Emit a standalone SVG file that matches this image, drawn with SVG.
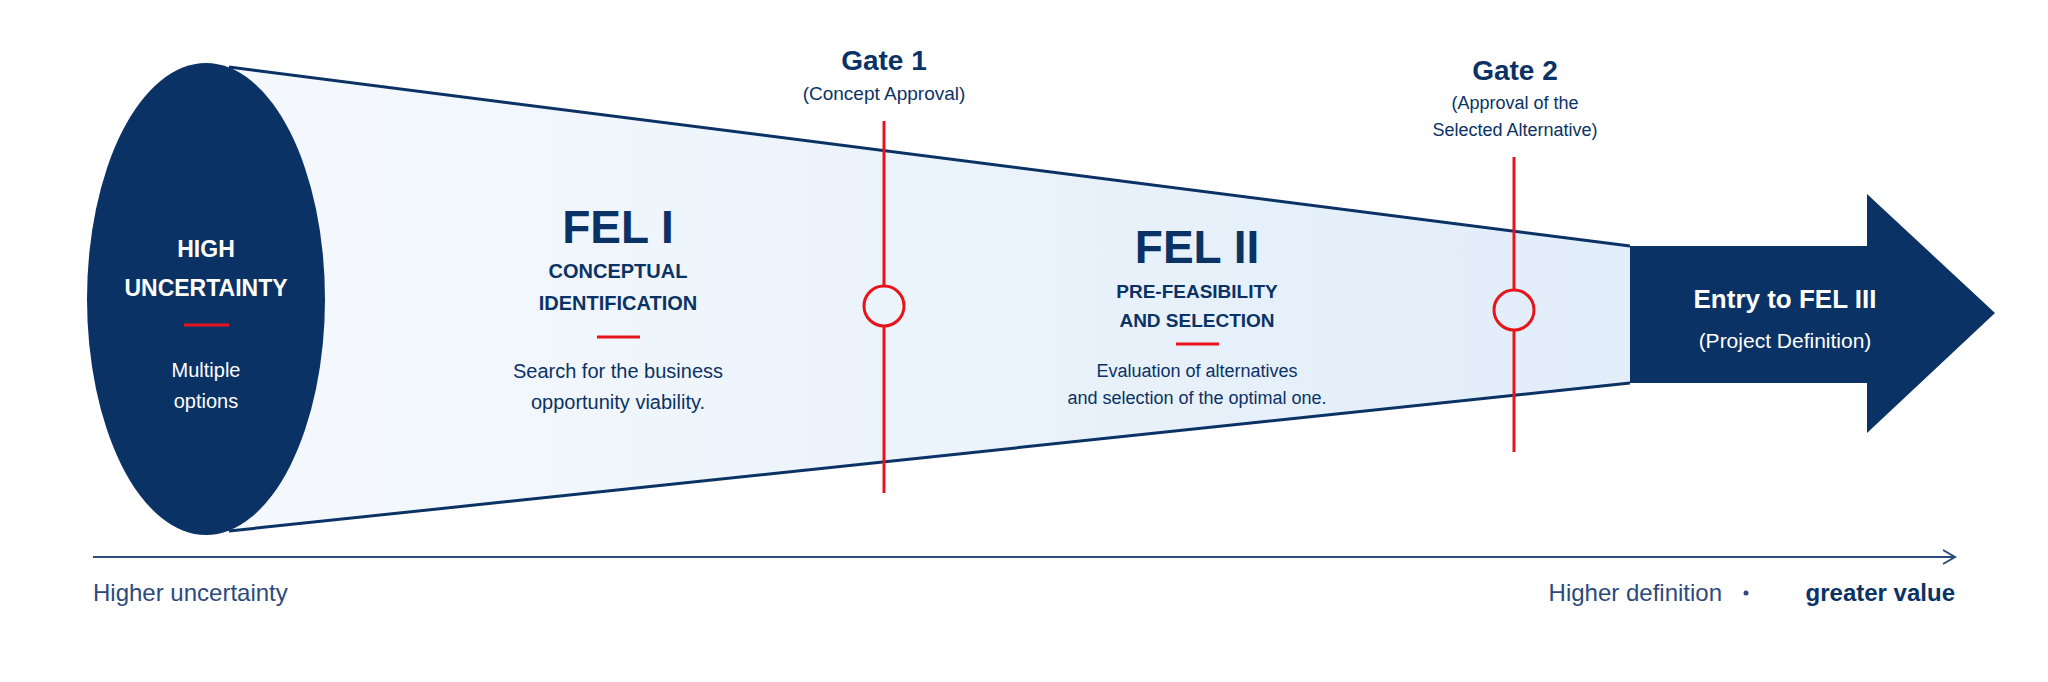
<svg xmlns="http://www.w3.org/2000/svg" width="2048" height="682" viewBox="0 0 2048 682">
<style>
text{font-family:"Liberation Sans",Arial,sans-serif;text-anchor:middle}
.navy{fill:#0b3265}.w{fill:#fff}.b{font-weight:bold}
.gate{stroke:#e8141c;stroke-width:3;fill:none}
.red{stroke:#e8141c;stroke-width:3}
</style>
<defs>
<linearGradient id="cone" x1="0" x2="1" y1="0" y2="0"><stop offset="0" stop-color="#f5f9fd"/><stop offset="1" stop-color="#e1edf9"/></linearGradient>
<marker id="ah" markerWidth="16" markerHeight="16" refX="14" refY="8" orient="auto" markerUnits="userSpaceOnUse"><path d="M2,1 L14,8 L2,15" fill="none" stroke="#2c4a7c" stroke-width="2"/></marker>
</defs>
<rect width="2048" height="682" fill="#fff"/>
<g id="cone-body">
<path d="M229,67 L1630,246 L1630,383 L229,531 Z" fill="url(#cone)"/>
<path d="M229,67 L1630,246 M229,531 L1630,383" stroke="#0b3265" stroke-width="3" fill="none"/>
</g>
<g id="start"><ellipse cx="206" cy="299" rx="119" ry="236" fill="#0b3265"/>
<text x="206" y="257" class="w b" font-size="23">HIGH</text>
<text x="206" y="296" class="w b" font-size="23">UNCERTAINTY</text>
<line x1="184" y1="325" x2="229" y2="325" class="red"/>
<text x="206" y="377" class="w" font-size="20">Multiple</text>
<text x="206" y="408" class="w" font-size="20">options</text></g>
<g id="fel1">
<text x="618" y="243" class="navy b" font-size="46">FEL I</text>
<text x="618" y="278" class="navy b" font-size="20">CONCEPTUAL</text>
<text x="618" y="310" class="navy b" font-size="20">IDENTIFICATION</text>
<line x1="597" y1="337" x2="640" y2="337" class="red"/>
<text x="618" y="378" class="navy" font-size="20">Search for the business</text>
<text x="618" y="409" class="navy" font-size="20">opportunity viability.</text></g>
<g id="fel2">
<text x="1197" y="263" class="navy b" font-size="46">FEL II</text>
<text x="1197" y="298" class="navy b" font-size="19">PRE-FEASIBILITY</text>
<text x="1197" y="327" class="navy b" font-size="19">AND SELECTION</text>
<line x1="1176" y1="344" x2="1219" y2="344" class="red"/>
<text x="1197" y="377" class="navy" font-size="18">Evaluation of alternatives</text>
<text x="1197" y="404" class="navy" font-size="18">and selection of the optimal one.</text></g>
<g id="entry">
<path d="M1630,246 L1867,246 L1867,194 L1995,313 L1867,433 L1867,383 L1630,383 Z" fill="#0b3265"/>
<text x="1785" y="308" class="w b" font-size="26">Entry to FEL III</text>
<text x="1785" y="348" class="w" font-size="21">(Project Definition)</text></g>
<g id="gate1">
<line x1="884" y1="121" x2="884" y2="286" class="red"/><line x1="884" y1="326" x2="884" y2="493" class="red"/>
<circle cx="884" cy="306" r="20" class="gate" fill="#fff"/>
<text x="884" y="70" class="navy b" font-size="28">Gate 1</text>
<text x="884" y="100" class="navy" font-size="19">(Concept Approval)</text></g>
<g id="gate2">
<line x1="1514" y1="157" x2="1514" y2="290" class="red"/><line x1="1514" y1="330" x2="1514" y2="452" class="red"/>
<circle cx="1514" cy="310" r="20" class="gate" fill="#fff"/>
<text x="1515" y="80" class="navy b" font-size="28">Gate 2</text>
<text x="1515" y="109" class="navy" font-size="18">(Approval of the</text>
<text x="1515" y="136" class="navy" font-size="18">Selected Alternative)</text></g>
<g id="connectors"><line x1="93" y1="557" x2="1955" y2="557" stroke="#2c4a7c" stroke-width="2" marker-end="url(#ah)"/></g>
<g id="axis-labels">
<text x="93" y="601" style="text-anchor:start" fill="#2c4a7c" font-size="24">Higher uncertainty</text>
<text x="1722" y="601" style="text-anchor:end" fill="#2c4a7c" font-size="24">Higher definition</text>
<circle cx="1746" cy="593" r="2.5" fill="#2c4a7c"/>
<text x="1955" y="601" style="text-anchor:end" class="navy b" font-size="24">greater value</text></g>
</svg>
